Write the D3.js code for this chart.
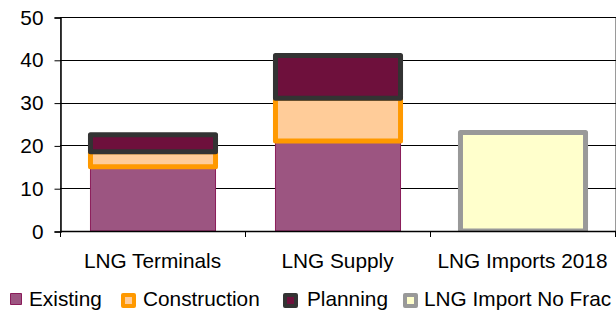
<!DOCTYPE html>
<html>
<head>
    <title>lng chart</title>
    <script src="https://d3js.org/d3.v7.min.js"></script>
    <style>
        body { margin: 0; background: #fff; }
        svg text { font-family: "Liberation Sans", Arial, sans-serif; fill: #000; }
    </style>
</head>
<body>
    <svg id="chart" width="616" height="316"></svg>

    <script>
// chart values
var categories = ["LNG Terminals", "LNG Supply", "LNG Imports 2018"];
var seriesNames = ["Existing", "Construction", "Planning", "LNG Import No Frac"];
var existing = [15, 21, 0];
var construction = [3.5, 10, 0];
var planning = [4, 10, 0];
var importNoFrac = [0, 0, 23];
var yTicks = [0, 10, 20, 30, 40, 50];

var seriesStyle = [
    { fill: "#9c5581", stroke: "#8b1c5a", sw: 1 },
    { fill: "#ffcc99", stroke: "#ff9900", sw: 5 },
    { fill: "#6e103c", stroke: "#333333", sw: 5 },
    { fill: "#ffffcc", stroke: "#999999", sw: 5 }
];

var fontSize = 20.8;

var svg = d3.select("#chart");

var plotLeft = 60, plotRight = 615, plotTop = 17, plotBottom = 231;

var x = d3.scaleBand()
    .domain(categories)
    .range([plotLeft, plotRight])
    .paddingInner(0.324)
    .paddingOuter(0.162);

var y = d3.scaleLinear()
    .domain([0, 50])
    .range([plotBottom, plotTop]);

// rows for the stack
var rows = categories.map(function (c, i) {
    return {
        cat: c,
        "Existing": existing[i],
        "Construction": construction[i],
        "Planning": planning[i],
        "LNG Import No Frac": importNoFrac[i]
    };
});
var stacked = d3.stack().keys(seriesNames)(rows);

// plot border
svg.append("rect")
    .attr("x", plotLeft + 0.5).attr("y", plotTop + 0.5)
    .attr("width", plotRight - plotLeft).attr("height", plotBottom - plotTop)
    .attr("fill", "none").attr("stroke", "#9a9a9a");

// gridlines
svg.append("g").selectAll("line")
    .data(yTicks.filter(function (t) { return t > 0; }))
    .enter().append("line")
    .attr("x1", plotLeft).attr("x2", plotRight + 1)
    .attr("y1", function (d) { return Math.round(y(d)) + 0.5; })
    .attr("y2", function (d) { return Math.round(y(d)) + 0.5; })
    .attr("stroke", "#000").attr("stroke-width", 1);

svg.append("clipPath").attr("id", "plotclip")
    .append("rect")
    .attr("x", plotLeft).attr("y", 0)
    .attr("width", plotRight - plotLeft).attr("height", plotBottom);

// bars, series by series so the heavy borders overlap like excel
var barsG = svg.append("g").attr("clip-path", "url(#plotclip)");
stacked.forEach(function (layer, si) {
    var st = seriesStyle[si];
    barsG.append("g").selectAll("rect")
        .data(layer.filter(function (d) { return d[1] - d[0] > 0; }))
        .enter().append("rect")
        .attr("x", function (d) { return x(d.data.cat) + 0.5; })
        .attr("y", function (d) { return y(d[1]); })
        .attr("width", x.bandwidth())
        .attr("height", function (d) { return y(d[0]) - y(d[1]); })
        .attr("fill", st.fill)
        .attr("stroke", st.stroke)
        .attr("stroke-width", st.sw)
        .attr("stroke-linejoin", "round");
});

// y axis
var yAxis = d3.axisLeft(y)
    .tickValues(yTicks)
    .tickSize(6)
    .tickPadding(11)
    .tickFormat(d3.format("d"));

var yg = svg.append("g")
    .attr("transform", "translate(" + (plotLeft + 0.5) + ",0.5)")
    .call(yAxis);
yg.select(".domain").attr("stroke", "#000").attr("stroke-width", 1.5);
yg.selectAll(".tick line").attr("stroke", "#000");
yg.selectAll(".tick text")
    .attr("font-size", fontSize)
    .attr("font-family", "Liberation Sans, Arial, sans-serif")
    .attr("fill", "#000");

// x axis line + ticks at band edges
var edges = categories.map(function (c) { return x(c) - x.step() * x.paddingInner() / 2; });
edges.push(plotRight);
svg.append("line")
    .attr("x1", plotLeft).attr("x2", plotRight + 1)
    .attr("y1", plotBottom + 0.5).attr("y2", plotBottom + 0.5)
    .attr("stroke", "#000").attr("stroke-width", 1.5);
svg.append("g").selectAll("line")
    .data(edges)
    .enter().append("line")
    .attr("x1", function (d) { return Math.round(d) + 0.5; })
    .attr("x2", function (d) { return Math.round(d) + 0.5; })
    .attr("y1", plotBottom).attr("y2", plotBottom + 6)
    .attr("stroke", "#000");

svg.append("g").selectAll("text")
    .data(categories)
    .enter().append("text")
    .attr("x", function (d) { return x(d) + x.bandwidth() / 2; })
    .attr("y", 268)
    .attr("text-anchor", "middle")
    .attr("font-size", fontSize)
    .text(function (d) { return d; });

// legend
var legendX = [10, 121, 283, 403];
var legendTextX = [29, 143, 307, 424];
var lg = svg.append("g");
seriesNames.forEach(function (name, i) {
    var st = seriesStyle[i];
    var thick = st.sw > 1;
    var off = thick ? 2 : 0.5;
    lg.append("rect")
        .attr("x", legendX[i] + off)
        .attr("y", 293 + off)
        .attr("width", 11)
        .attr("height", 11)
        .attr("fill", st.fill)
        .attr("stroke", st.stroke)
        .attr("stroke-width", thick ? 4 : 1)
        .attr("stroke-linejoin", "round");
    lg.append("text")
        .attr("x", legendTextX[i])
        .attr("y", 306)
        .attr("font-size", fontSize)
        .text(name);
});
    </script>
</body>
</html>
